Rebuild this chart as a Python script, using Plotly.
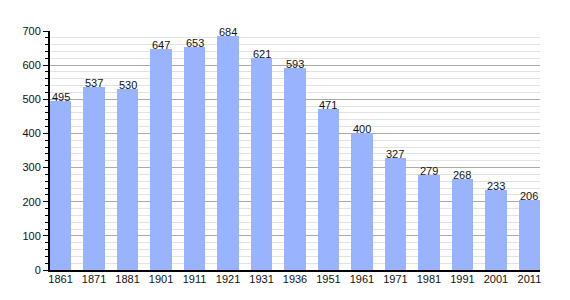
import plotly.graph_objects as go

years = ["1861", "1871", "1881", "1901", "1911", "1921", "1931", "1936",
         "1951", "1961", "1971", "1981", "1991", "2001", "2011"]
population = [495, 537, 530, 647, 653, 684, 621, 593, 471, 400, 327, 279, 268, 233, 206]

FONT = "Liberation Sans, Arial, sans-serif"

fig = go.Figure(go.Bar(
    x=years, y=population,
    marker=dict(color="#99b3ff", line=dict(width=0)),
    width=0.63,
    hoverinfo="x+y",
))

for i, v in enumerate(population):
    fig.add_annotation(
        x=i, y=v, xref="x", yref="y", text=str(v), showarrow=False,
        yanchor="bottom", yshift=-3, borderpad=0,
        font=dict(family=FONT, size=11, color="#111"),
    )

fig.update_layout(
    width=570, height=300,
    margin=dict(l=50, r=30, t=31, b=30),
    plot_bgcolor="white", paper_bgcolor="white",
    showlegend=False,
    font=dict(family=FONT, size=11, color="#111"),
    bargap=0,
)
fig.update_xaxes(
    type="category", range=[-0.315, len(years) - 1 + 0.315],
    showline=True, linecolor="black", linewidth=2,
    showgrid=False, ticks="", tickfont=dict(size=11),
    ticklabelstandoff=-2,
)
fig.update_yaxes(
    range=[0, 700], dtick=100, tick0=0,
    showline=True, linecolor="black", linewidth=2,
    showgrid=True, gridcolor="#aaaaaa", gridwidth=1,
    ticks="outside", ticklen=5, tickcolor="black",
    zeroline=False,
    minor=dict(dtick=20, showgrid=True, gridcolor="#e2e2e2", ticks="outside", ticklen=3, tickcolor="black"),
    tickfont=dict(size=11),
)

fig.write_html("out.html")
